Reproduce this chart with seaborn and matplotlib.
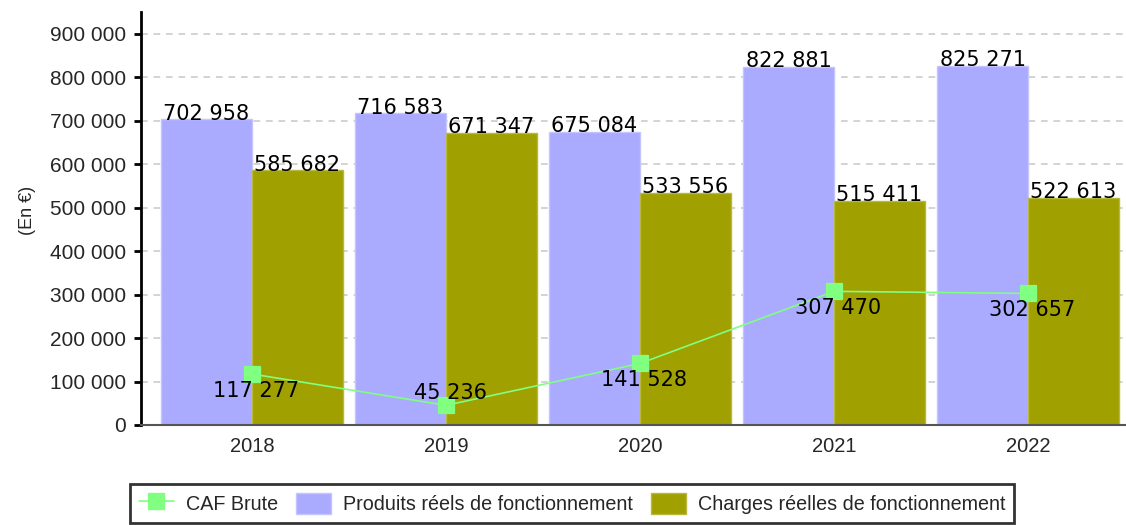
import matplotlib
matplotlib.use("Agg")
import matplotlib.pyplot as plt
from matplotlib.ticker import FuncFormatter, MultipleLocator
from matplotlib.lines import Line2D
from matplotlib.patches import Patch
import seaborn as sns
import pandas as pd
import numpy as np

years = ["2018", "2019", "2020", "2021", "2022"]
produits = [702958, 716583, 675084, 822881, 825271]
charges = [585682, 671347, 533556, 515411, 522613]
caf = [117277, 45236, 141528, 307470, 302657]

series_produits = "Produits réels de fonctionnement"
series_charges = "Charges réelles de fonctionnement"
series_caf = "CAF Brute"

col_prod = "#AAAAFF"
col_charg = "#A0A000"
col_caf = "#80FF80"

sns.set_style("white")
plt.rcParams["font.family"] = ["Liberation Sans", "DejaVu Sans"]

df = pd.DataFrame({
    "year": years * 2,
    "value": produits + charges,
    "series": [series_produits] * len(years) + [series_charges] * len(years),
})

fig = plt.figure(figsize=(11.26, 5.25), dpi=100)
ax = fig.add_axes([141 / 1126, 100 / 525, (1126 - 141) / 1126, 413 / 525])

sns.barplot(data=df, x="year", y="value", hue="series", order=years,
            hue_order=[series_produits, series_charges],
            palette=[col_prod, col_charg], width=0.938, gap=0, saturation=1,
            errorbar=None, ax=ax, legend=False, zorder=2)
edge_cols = ["#C4C4FF", "#B8B840"]
for cont, ec in zip(ax.containers, edge_cols):
    for p in cont:
        p.set_edgecolor(ec)
        p.set_linewidth(1)
    ax.bar_label(cont, labels=[f"{v:,.0f}".replace(",", " ") for v in cont.datavalues],
                 padding=-3, fontsize=15, family="DejaVu Sans", color="black", zorder=5)

sns.pointplot(x=years, y=caf, order=years, color=col_caf, markers="s",
              markersize=12, linewidth=1.2, errorbar=None, ax=ax)
for coll in ax.collections:
    coll.set_zorder(4)
for ln in ax.lines:
    ln.set_zorder(4)

offsets = [-12, 9, -12, -12, -12]
for i, (v, off) in enumerate(zip(caf, offsets)):
    ax.annotate(f"{v:,.0f}".replace(",", " "), xy=(i, v), xytext=(3, off),
                textcoords="offset points", ha="center", va="center",
                fontsize=15, family="DejaVu Sans", color="black", zorder=6)

ax.set_ylim(0, 950000)
ax.set_xlim(-0.572, 4.505)
ax.yaxis.set_major_locator(MultipleLocator(100000))
ax.yaxis.set_major_formatter(FuncFormatter(lambda v, p: f"{v:,.0f}".replace(",", " ")))
ax.grid(axis="y", color="#CCCCCC", linestyle=(0, (4, 3.5)), linewidth=1.2, zorder=0)
ax.set_axisbelow(True)
ax.set_xlabel("")
ax.set_ylabel("(En €)", fontsize=13)
ax.yaxis.set_label_coords(-0.107, 0.52)

for s in ["top", "right"]:
    ax.spines[s].set_visible(False)
ax.spines["left"].set_linewidth(2)
ax.spines["left"].set_color("black")
ax.spines["bottom"].set_linewidth(1.5)
ax.spines["bottom"].set_color("#555555")
ax.tick_params(axis="y", which="major", direction="out", length=5, width=2,
               color="black", labelsize=15, pad=6, left=True)
ax.tick_params(axis="x", length=0, labelsize=14.5, pad=9)

handles = [
    Line2D([0], [0], color=col_caf, marker="s", markersize=12, linewidth=1.2),
    Patch(facecolor=col_prod, edgecolor="#C4C4FF"),
    Patch(facecolor=col_charg, edgecolor="#B8B840"),
]
leg = fig.legend(handles, [series_caf, series_produits, series_charges],
                 loc="lower center", bbox_to_anchor=(0.508, 0.0), ncol=3,
                 fontsize=14.2, frameon=True, fancybox=False, handlelength=1.8,
                 handleheight=1.3, columnspacing=0.9, handletextpad=0.6,
                 borderpad=0.45, borderaxespad=0.1)
leg.get_frame().set_edgecolor("black")
leg.get_frame().set_linewidth(2)

fig.savefig("out.png", dpi=100)
